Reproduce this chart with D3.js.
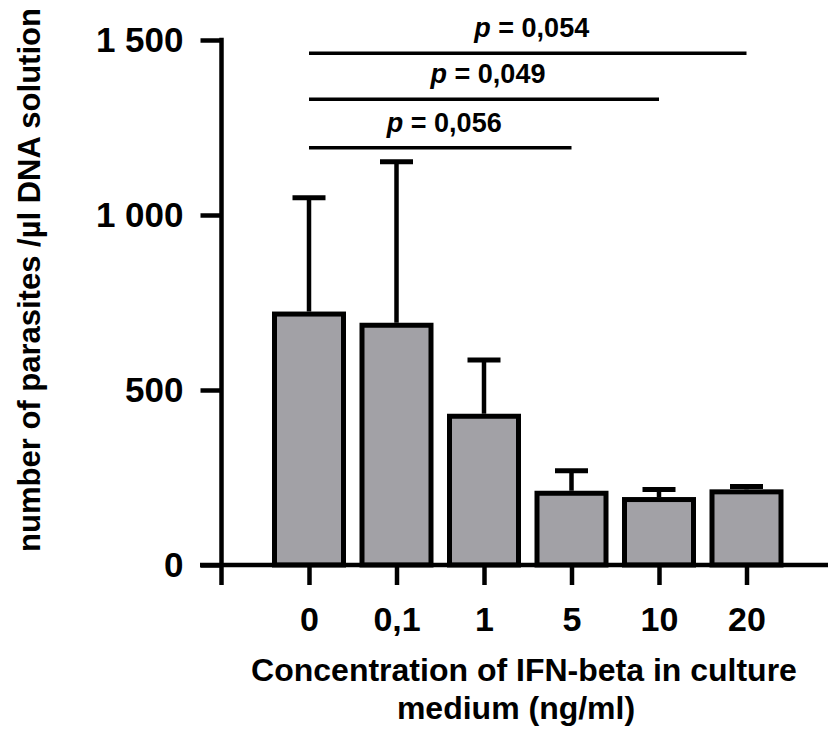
<!DOCTYPE html>
<html>
<head>
  <meta charset="utf-8">
  <script src="https://d3js.org/d3.v7.min.js"></script>
  <style>
    body { margin: 0; background: #fff; }
    text { font-family: "Liberation Sans", Arial, Helvetica, sans-serif; font-weight: bold; fill: #000; }
  </style>
</head>
<body>
<script>

  // chart data
  var categories = ["0", "0,1", "1", "5", "10", "20"];
  var means = [717, 685, 425, 205, 187, 209];
  var sds = [332, 467, 161, 64, 29, 15];
  var yTicks = [0, 500, 1000, 1500];
  var yTickLabels = ["0", "500", "1 000", "1 500"];

  // significance brackets: from category, to category, level (data units), label
  var sigFrom = ["0", "0", "0"];
  var sigTo = ["20", "10", "5"];
  var sigLevel = [1462, 1331, 1192];
  var sigLabel = ["0,054", "0,049", "0,056"];

  var width = 828, height = 729;

  var svg = d3.select("body").append("svg")
      .attr("width", width)
      .attr("height", height);

  var x = d3.scalePoint()
      .domain(categories)
      .range([309, 746.5]);

  var y = d3.scaleLinear()
      .domain([0, 1500])
      .range([565, 40]);

  var barW = 69;

  // bars
  svg.selectAll(".bar")
      .data(categories)
      .enter().append("rect")
      .attr("class", "bar")
      .attr("x", function(d) { return x(d) - barW / 2; })
      .attr("y", function(d, i) { return y(means[i]); })
      .attr("width", barW)
      .attr("height", function(d, i) { return y(0) - y(means[i]); })
      .style("fill", "#a2a1a6")
      .style("stroke", "#000")
      .style("stroke-width", 5);

  // error bars (upper only)
  var err = svg.selectAll(".err")
      .data(categories)
      .enter().append("g")
      .attr("class", "err");

  err.append("line")
      .attr("x1", function(d) { return x(d); })
      .attr("x2", function(d) { return x(d); })
      .attr("y1", function(d, i) { return y(means[i]) - 2.5; })
      .attr("y2", function(d, i) { return y(means[i] + sds[i]); })
      .style("stroke", "#000")
      .style("stroke-width", 4.5);

  err.append("line")
      .attr("x1", function(d) { return x(d) - 16.5; })
      .attr("x2", function(d) { return x(d) + 16.5; })
      .attr("y1", function(d, i) { return y(means[i] + sds[i]); })
      .attr("y2", function(d, i) { return y(means[i] + sds[i]); })
      .style("stroke", "#000")
      .style("stroke-width", 5);

  // y axis
  var yAxis = d3.axisLeft(y)
      .tickValues(yTicks)
      .tickSize(21)
      .tickPadding(17)
      .tickFormat(function(d, i) { return yTickLabels[i]; });

  var gy = svg.append("g")
      .attr("transform", "translate(221.5,0)")
      .call(yAxis);
  gy.select(".domain").remove();
  gy.selectAll(".tick line").style("stroke", "#000").style("stroke-width", 4.5);
  gy.selectAll(".tick text")
      .style("font-size", "35px")
      .style("font-family", "'Liberation Sans', Arial, sans-serif")
      .style("font-weight", "bold");

  svg.append("line")
      .attr("x1", 221.5).attr("x2", 221.5)
      .attr("y1", y(1500) - 2.25).attr("y2", 585)
      .style("stroke", "#000")
      .style("stroke-width", 4.5);

  // x axis
  var xAxis = d3.axisBottom(x)
      .tickSize(20)
      .tickPadding(22);

  var gx = svg.append("g")
      .attr("transform", "translate(0,565)")
      .call(xAxis);
  gx.select(".domain").remove();
  gx.selectAll(".tick line").style("stroke", "#000").style("stroke-width", 4.5);
  gx.selectAll(".tick text")
      .style("font-size", "34px")
      .style("font-family", "'Liberation Sans', Arial, sans-serif")
      .style("font-weight", "bold");

  svg.append("line")
      .attr("x1", 200).attr("x2", width)
      .attr("y1", 565).attr("y2", 565)
      .style("stroke", "#000")
      .style("stroke-width", 4.5);

  // significance lines
  svg.selectAll(".sig")
      .data(sigLevel)
      .enter().append("line")
      .attr("class", "sig")
      .attr("x1", function(d, i) { return x(sigFrom[i]); })
      .attr("x2", function(d, i) { return x(sigTo[i]); })
      .attr("y1", function(d) { return y(d); })
      .attr("y2", function(d) { return y(d); })
      .style("stroke", "#000")
      .style("stroke-width", 3.5);

  var sigText = svg.selectAll(".sigtext")
      .data(sigLevel)
      .enter().append("text")
      .attr("class", "sigtext")
      .attr("x", function(d, i) { return (x(sigFrom[i]) + x(sigTo[i])) / 2 + 4; })
      .attr("y", function(d) { return y(d) - 16; })
      .attr("text-anchor", "middle")
      .style("font-size", "27px");

  sigText.append("tspan").style("font-style", "italic").text("p");
  sigText.append("tspan").text(function(d, i) { return " = " + sigLabel[i]; });

  // axis titles
  svg.append("text")
      .attr("transform", "translate(40,280) rotate(-90)")
      .attr("text-anchor", "middle")
      .style("font-size", "31px")
      .text("number of parasites /µl DNA solution");

  svg.append("text")
      .attr("x", 524)
      .attr("y", 681)
      .attr("text-anchor", "middle")
      .style("font-size", "32px")
      .text("Concentration of IFN-beta in culture");

  svg.append("text")
      .attr("x", 516)
      .attr("y", 719)
      .attr("text-anchor", "middle")
      .style("font-size", "32px")
      .text("medium (ng/ml)");

</script>
</body>
</html>
